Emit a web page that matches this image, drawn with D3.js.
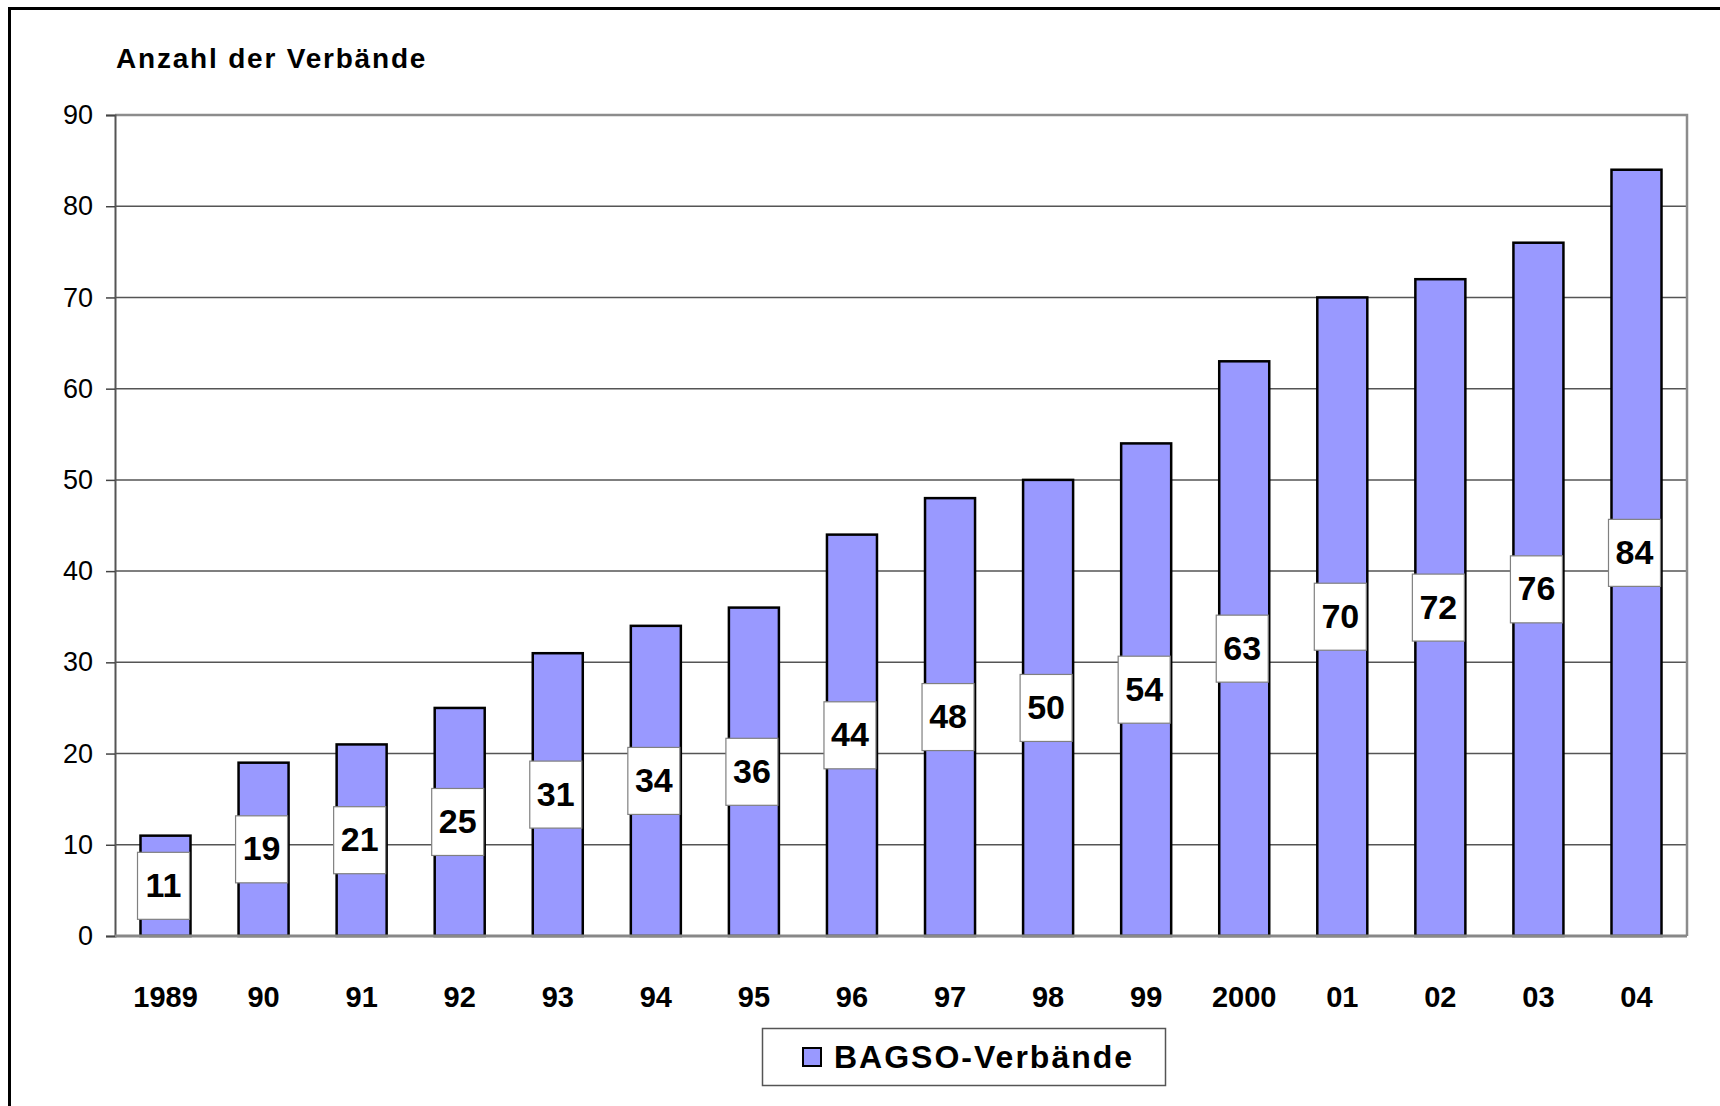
<!DOCTYPE html>
<html>
<head>
<meta charset="utf-8">
<script src="https://cdn.jsdelivr.net/npm/d3@7/dist/d3.min.js"></script>
<style>
  html, body { margin: 0; padding: 0; background: #fff; }
  svg { display: block; font-family: "Liberation Sans", Arial, sans-serif; }
</style>
</head>
<body>
<svg id="chart" width="1720" height="1106"></svg>
<script>
// ---- data ----
const years = ["1989","90","91","92","93","94","95","96","97","98","99","2000","01","02","03","04"];
const values = [11,19,21,25,31,34,36,44,48,50,54,63,70,72,76,84];
const yTicks = [0,10,20,30,40,50,60,70,80,90];
const yAxisTitle = "Anzahl der Verbände";
const seriesName = "BAGSO-Verbände";

// ---- layout ----
const svg = d3.select("#chart");
const plot = { left: 115, right: 1687, top: 115, bottom: 936 };

const x = d3.scaleBand()
  .domain(years)
  .range([plot.left, plot.right])
  .paddingInner(0.49)
  .paddingOuter(0.26);

const y = d3.scaleLinear()
  .domain([0, 90])
  .range([plot.bottom, plot.top]);

// outer frame (top + left visible)
svg.append("path")
  .attr("d", `M9.5,1106 L9.5,8.5 L1720,8.5`)
  .attr("fill", "none")
  .attr("stroke", "#000")
  .attr("stroke-width", 3);

// gridlines
svg.append("g")
  .selectAll("line")
  .data(yTicks.filter(t => t > 0 && t < 90))
  .join("line")
  .attr("x1", plot.left).attr("x2", plot.right)
  .attr("y1", d => y(d)).attr("y2", d => y(d))
  .attr("stroke", "#555")
  .attr("stroke-width", 1.5);

// plot border top & right
svg.append("path")
  .attr("d", `M${plot.left},${y(90)} L${plot.right},${y(90)} L${plot.right},${plot.bottom}`)
  .attr("fill", "none")
  .attr("stroke", "#8c8c8c")
  .attr("stroke-width", 2.5);

// y axis
const yAxis = d3.axisLeft(y)
  .tickValues(yTicks)
  .tickSize(9)
  .tickPadding(13)
  .tickFormat(d3.format("d"));
const gy = svg.append("g")
  .attr("transform", `translate(${plot.left},0)`)
  .call(yAxis);
gy.select(".domain").attr("stroke", "#555").attr("stroke-width", 2);
gy.selectAll(".tick line").attr("stroke", "#444").attr("stroke-width", 1.5);
gy.selectAll(".tick text")
  .attr("font-size", 27)
  .attr("font-family", "'Liberation Sans', Arial, sans-serif")
  .attr("fill", "#000");

// bars
svg.append("g")
  .selectAll("rect")
  .data(values)
  .join("rect")
  .attr("x", (d, i) => x(years[i]))
  .attr("width", x.bandwidth())
  .attr("y", d => y(d))
  .attr("height", d => y(0) - y(d))
  .attr("fill", "#9999FF")
  .attr("stroke", "#000")
  .attr("stroke-width", 2.5);

// bottom axis line
svg.append("line")
  .attr("x1", plot.left).attr("x2", plot.right)
  .attr("y1", plot.bottom).attr("y2", plot.bottom)
  .attr("stroke", "#888")
  .attr("stroke-width", 3);

// x axis labels
const xAxis = d3.axisBottom(x).tickSize(0).tickPadding(0);
const gx = svg.append("g")
  .attr("transform", `translate(0,${plot.bottom})`)
  .call(xAxis);
gx.select(".domain").remove();
gx.selectAll(".tick text")
  .attr("y", 71)
  .attr("dy", 0)
  .attr("font-size", 29)
  .attr("font-weight", "bold")
  .attr("font-family", "'Liberation Sans', Arial, sans-serif")
  .attr("fill", "#000");

// data labels
const boxW = 52, boxH = 67;
const lbl = svg.append("g")
  .selectAll("g")
  .data(values)
  .join("g")
  .attr("transform", (d, i) => `translate(${x(years[i]) + x.bandwidth() / 2 - 2},${(y(d) + y(0)) / 2})`);
lbl.append("rect")
  .attr("x", -boxW / 2).attr("y", -boxH / 2)
  .attr("width", boxW).attr("height", boxH)
  .attr("fill", "#fff")
  .attr("stroke", "#808080")
  .attr("stroke-width", 1.2);
lbl.append("text")
  .attr("text-anchor", "middle")
  .attr("y", 11)
  .attr("font-size", 34)
  .attr("font-weight", "bold")
  .attr("fill", "#000")
  .text(d => d);

// y axis title
svg.append("text")
  .attr("x", 116).attr("y", 68)
  .attr("font-size", 28)
  .attr("font-weight", "bold")
  .attr("letter-spacing", 1.8)
  .attr("fill", "#000")
  .text(yAxisTitle);

// legend
const leg = svg.append("g");
leg.append("rect")
  .attr("x", 762.5).attr("y", 1028.5)
  .attr("width", 403).attr("height", 57)
  .attr("fill", "#fff")
  .attr("stroke", "#555")
  .attr("stroke-width", 1.5);
leg.append("rect")
  .attr("x", 803).attr("y", 1048)
  .attr("width", 18).attr("height", 18)
  .attr("fill", "#9999FF")
  .attr("stroke", "#000")
  .attr("stroke-width", 2);
leg.append("text")
  .attr("x", 834).attr("y", 1068)
  .attr("font-size", 32)
  .attr("font-weight", "bold")
  .attr("letter-spacing", 2)
  .attr("fill", "#000")
  .text(seriesName);
</script>
</body>
</html>
